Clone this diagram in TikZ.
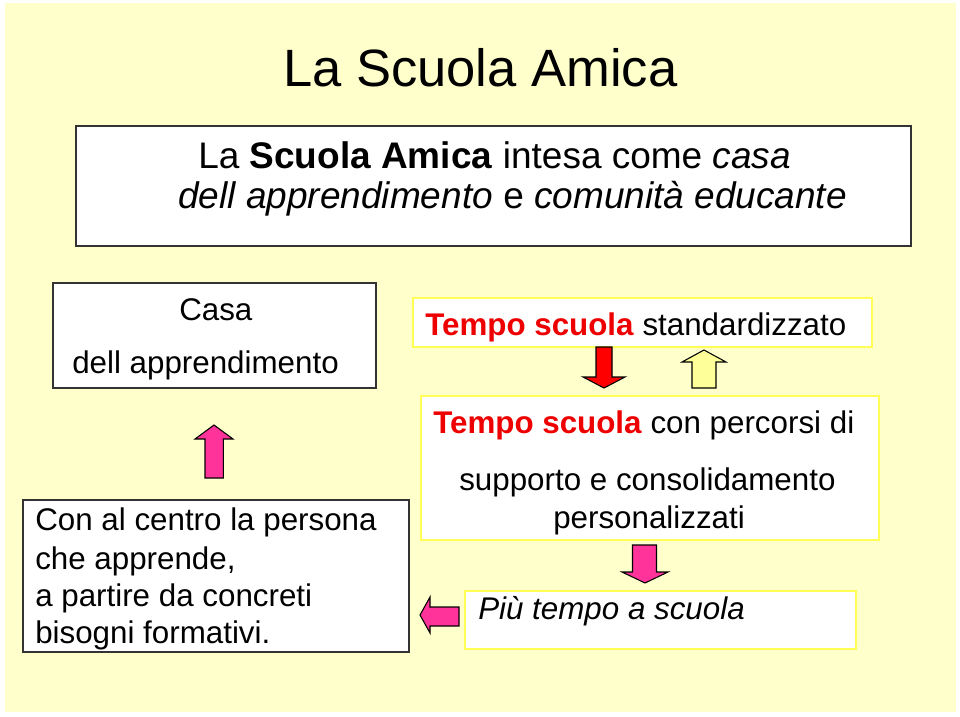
\documentclass[tikz,border=0pt]{standalone}
\usepackage{fontspec}
\setmainfont{Liberation Sans}
\definecolor{bgyellow}{HTML}{FFFFCC}
\definecolor{boxyellow}{HTML}{FFFF55}
\definecolor{pinkarrow}{HTML}{FF3399}
\definecolor{redarrow}{HTML}{FF0000}
\definecolor{redtext}{HTML}{EE0000}
\definecolor{palearrow}{HTML}{FFFF99}
\definecolor{grayline}{HTML}{333333}
\tikzset{
  graybox/.style={draw=grayline, line width=1.1pt, fill=white},
  yelbox/.style={draw=boxyellow, line width=1.6pt, fill=white},
  txt/.style={inner sep=0pt, anchor=base west, font=\fontsize{23.5}{28}\selectfont},
  bigtxt/.style={inner sep=0pt, anchor=base west, font=\fontsize{27.75}{33}\selectfont},
  titletxt/.style={inner sep=0pt, anchor=base west, font=\fontsize{39.4}{46}\selectfont},
  blockarrow/.style={draw=black, line width=0.8pt, line join=miter},
}
\begin{document}
\begin{tikzpicture}[x=0.75pt,y=-0.75pt]
\useasboundingbox (0,0) rectangle (960,717);
\fill[white] (0,0) rectangle (960,717);
\fill[bgyellow] (5,3) rectangle (956,712);

% title
\node[titletxt] (title) at (283,87) {La Scuola Amica};

% box 1
\draw[graybox] (76,126) rectangle (911,246);
\node[bigtxt] (b1a) at (198,168) {La \textbf{Scuola Amica} intesa come \textit{casa}};
\node[bigtxt] (b1b) at (178,208) {\textit{dell apprendimento} e \textit{comunità educante}};

% box 2
\draw[graybox] (53,283) rectangle (376,388);
\node[txt] (b2a) at (179,320) {Casa};
\node[txt] (b2b) at (72,373) {dell apprendimento};

% box 3
\draw[graybox] (23,500) rectangle (409,652);
\node[txt] (b3a) at (35,530) {Con al centro la persona};
\node[txt] (b3b) at (35,569) {che apprende,};
\node[txt] (b3c) at (35,606) {a partire da concreti};
\node[txt] (b3d) at (35,643) {bisogni formativi.};

% box 4
\draw[yelbox] (413,298) rectangle (872,347);
\node[txt] (b4) at (425,335) {\textcolor{redtext}{\textbf{Tempo scuola}} standardizzato};

% box 5
\draw[yelbox] (421,396) rectangle (879,540);
\node[txt] (b5a) at (433,433) {\textcolor{redtext}{\textbf{Tempo scuola}} con percorsi di};
\node[txt] (b5b) at (459,490) {supporto e consolidamento};
\node[txt] (b5c) at (553,528) {personalizzati};

% box 6
\draw[yelbox] (465,591) rectangle (856,649);
\node[txt] (b6) at (478,619) {\textit{Più tempo a scuola}};

% arrows
\draw[blockarrow, fill=pinkarrow] (205,478) -- (205,439) -- (195,439) -- (214,425) -- (233,439) -- (223.3,439) -- (223.3,478) -- cycle;
\draw[blockarrow, fill=redarrow] (596,347) -- (612,347) -- (612,377) -- (625,377) -- (604,388) -- (583,377) -- (596,377) -- cycle;
\draw[blockarrow, fill=palearrow] (692,388) -- (692,362) -- (682,362) -- (704,350) -- (726,362) -- (716,362) -- (716,388) -- cycle;
\draw[blockarrow, fill=pinkarrow] (632.5,545) -- (656.5,545) -- (656.5,572) -- (668,572) -- (645,583) -- (622,572) -- (632.5,572) -- cycle;
\draw[blockarrow, fill=pinkarrow] (459,607) -- (430,607) -- (430,597) -- (420,615) -- (430,633) -- (430,626) -- (459,626) -- cycle;
\end{tikzpicture}
\end{document}
